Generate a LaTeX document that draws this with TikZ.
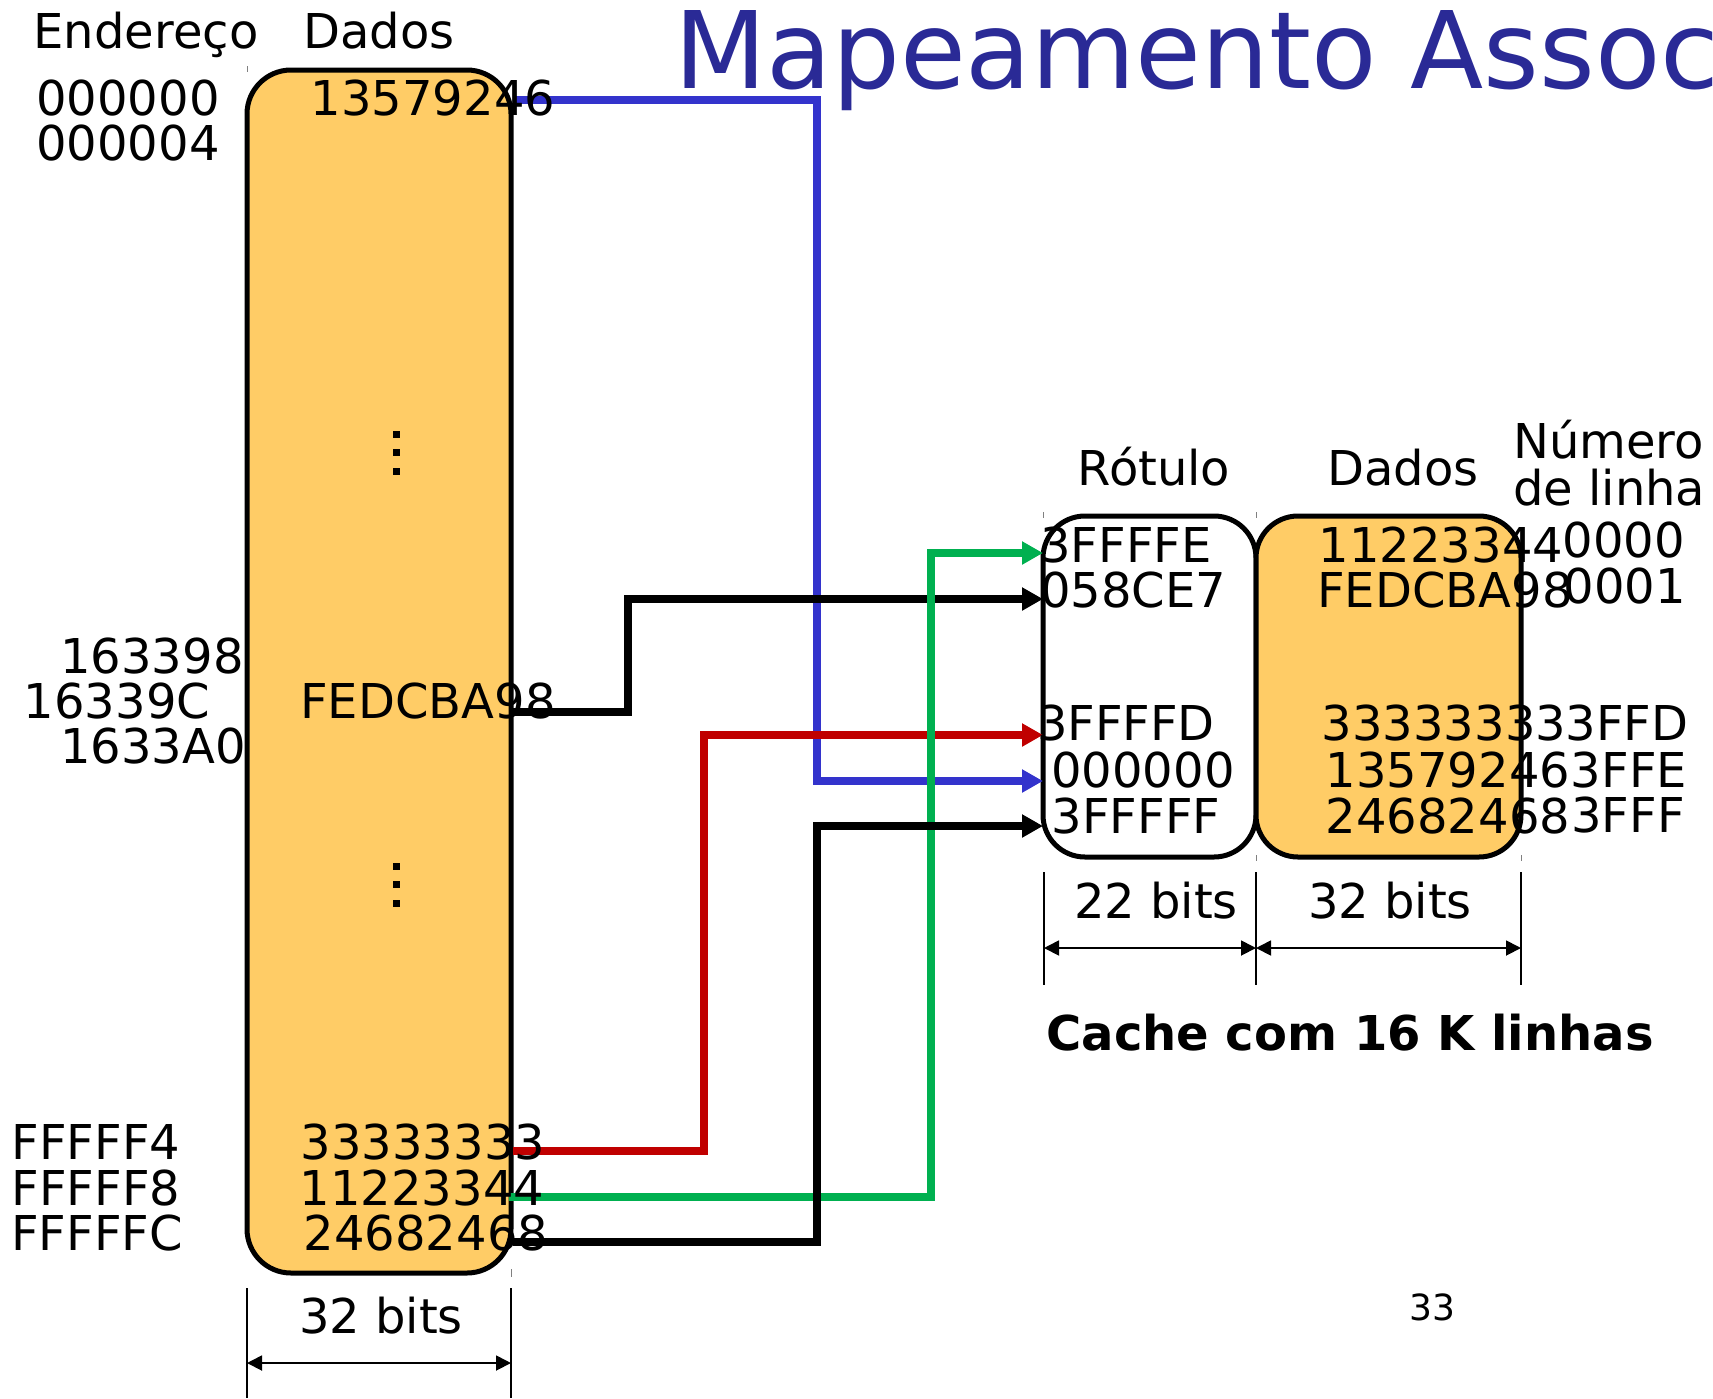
\documentclass[tikz,border=0pt]{standalone}
\usepackage{fontspec}
\setmainfont{DejaVu Sans}
\usetikzlibrary{arrows.meta}
\definecolor{boxfill}{RGB}{255,204,102}
\definecolor{titleblue}{RGB}{42,42,150}
\definecolor{lineblue}{RGB}{51,51,204}
\definecolor{linered}{RGB}{192,0,0}
\definecolor{linegreen}{RGB}{0,176,80}
\tikzset{
  txt/.style={inner sep=0pt, anchor=base, font=\fontsize{48}{48}\selectfont},
  txtw/.style={inner sep=0pt, anchor=base west, font=\fontsize{48}{48}\selectfont},
  membox/.style={draw=black, line width=5pt, rounded corners=44pt, fill=boxfill, inner sep=0pt},
  tagbox/.style={draw=black, line width=5pt, rounded corners=42pt, fill=white, inner sep=0pt},
  conn/.style={line width=7.5pt, -{Triangle[length=21pt,width=22pt]}},
  dimline/.style={line width=1.8pt},
  dimarrow/.style={line width=1.8pt, {Triangle[length=15pt,width=15pt]}-{Triangle[length=15pt,width=15pt]}},
  tick/.style={line width=1pt, gray},
  dotsq/.style={fill=black, draw=none}
}
\begin{document}
\begin{tikzpicture}[x=1pt, y=-1pt]
\useasboundingbox (0,0) rectangle (1713,1398);

% ---------- Title ----------
\node[inner sep=0pt, anchor=base west, font=\fontsize{107}{107}\selectfont, text=titleblue] (title) at (674,88) {Mapeamento Assoc};

% ---------- Boxes ----------
\node[membox, minimum width=264pt, minimum height=1203pt] (mem) at (379,671.5) {};
\node[tagbox, minimum width=213pt, minimum height=341pt] (tag) at (1149.5,686.5) {};
\node[membox, rounded corners=42pt, minimum width=265pt, minimum height=341pt] (cdata) at (1388.5,686.5) {};

% small guide ticks
\draw[tick] (247,66) -- (247,72);
\draw[tick] (511,1269) -- (511,1277);
\draw[tick] (1043,512) -- (1043,518);
\draw[tick] (1256,512) -- (1256,518);
\draw[tick] (1256,855) -- (1256,861);
\draw[tick] (1521,855) -- (1521,861);

% ellipsis dots
\foreach \yy in {434,452,471,866,884,903} {
  \fill[dotsq] (392.5,\yy-3.5) rectangle (399.5,\yy+3.5);
}

% ---------- Connectors ----------
\coordinate (bS) at (513,100);   \coordinate (bE) at (1043,781);
\coordinate (k1S) at (513,712);  \coordinate (k1E) at (1043,599);
\coordinate (rS) at (513,1151);  \coordinate (rE) at (1043,735);
\coordinate (gS) at (509,1197);  \coordinate (gE) at (1043,553);
\coordinate (k2S) at (513,1242); \coordinate (k2E) at (1043,826);

\draw[conn, lineblue] (bS) -- ++(304,0) |- (bE);
\draw[conn, black] (k1S) -- ++(115,0) |- (k1E);
\draw[conn, linered] (rS) -- ++(191,0) |- (rE);
\draw[conn, linegreen] (gS) -- ++(422,0) |- (gE);
\draw[conn, black] (k2S) -- ++(304,0) |- (k2E);

% ---------- Memory texts ----------
\node[txt] (hEnd) at (146,48) {Endereço};
\node[txt] (hDad) at (379,48) {Dados};
\node[txt] (a0) at (128,115) {000000};
\node[txt] (a4) at (128,160) {000004};
\node[txt] (d0) at (433,115) {13579246};
\node[txt] (a398) at (152,673) {163398};
\node[txt] (a39C) at (117,718) {16339C};
\node[txt] (a3A0) at (153,763) {1633A0};
\node[txt] (dF) at (428,718) {FEDCBA98};
\node[txt] (aF4) at (96,1159) {FFFFF4};
\node[txt] (aF8) at (96,1205) {FFFFF8};
\node[txt] (aFC) at (97,1250) {FFFFFC};
\node[txt] (d3) at (423,1159) {33333333};
\node[txt] (d1) at (422,1205) {11223344};
\node[txt] (d2) at (426,1250) {24682468};

% memory dimension
\coordinate (mL1) at (247,1288); \coordinate (mL2) at (247,1398);
\coordinate (mR1) at (511,1288); \coordinate (mR2) at (511,1398);
\draw[dimline] (mL1) -- (mL2);
\draw[dimline] (mR1) -- (mR2);
\coordinate (mA) at (247,1363); \coordinate (mB) at (511,1363);
\draw[dimarrow] (mA) -- (mB);
\node[txt] (m32) at (381,1333) {32 bits};

% ---------- Cache texts ----------
\node[txt] (hRot) at (1154,485) {Rótulo};
\node[txt] (hDad2) at (1403,485) {Dados};
\node[txtw] (hNum1) at (1513,458) {Número};
\node[txtw] (hNum2) at (1513,505) {de linha};

\node[txt] (t1) at (1126,562) {3FFFFE};
\node[txt] (t2) at (1133,607) {058CE7};
\node[txt] (t3) at (1126,740) {3FFFFD};
\node[txt] (t4) at (1143,787) {000000};
\node[txt] (t5) at (1136,833) {3FFFFF};

\node[txt] (c1) at (1441,562) {11223344};
\node[txt] (c2) at (1445,607) {FEDCBA98};
\node[txt] (c3) at (1444,740) {33333333};
\node[txt] (c4) at (1448,787) {13579246};
\node[txt] (c5) at (1448,833) {24682468};

\node[txt] (n1) at (1624,557) {0000};
\node[txt] (n2) at (1625,603) {0001};
\node[txt] (n3) at (1627,740) {3FFD};
\node[txt] (n4) at (1629,787) {3FFE};
\node[txt] (n5) at (1628,832) {3FFF};

% cache dimension
\coordinate (cA1) at (1044,872); \coordinate (cA2) at (1044,985);
\coordinate (cB1) at (1256,872); \coordinate (cB2) at (1256,985);
\coordinate (cC1) at (1521,872); \coordinate (cC2) at (1521,985);
\draw[dimline] (cA1) -- (cA2);
\draw[dimline] (cB1) -- (cB2);
\draw[dimline] (cC1) -- (cC2);
\coordinate (cAa) at (1044,948); \coordinate (cBa) at (1256,948); \coordinate (cCa) at (1521,948);
\draw[dimarrow] (cAa) -- (cBa);
\draw[dimarrow] (cBa) -- (cCa);
\node[txt] (c22) at (1156,918) {22 bits};
\node[txt] (c32) at (1390,918) {32 bits};

\node[txt, font=\fontsize{48}{48}\selectfont\bfseries] (cap) at (1350,1050) {Cache com 16 K linhas};

\node[inner sep=0pt, anchor=base, font=\fontsize{36}{36}\selectfont] (pg) at (1432,1320) {33};
\end{tikzpicture}
\end{document}
